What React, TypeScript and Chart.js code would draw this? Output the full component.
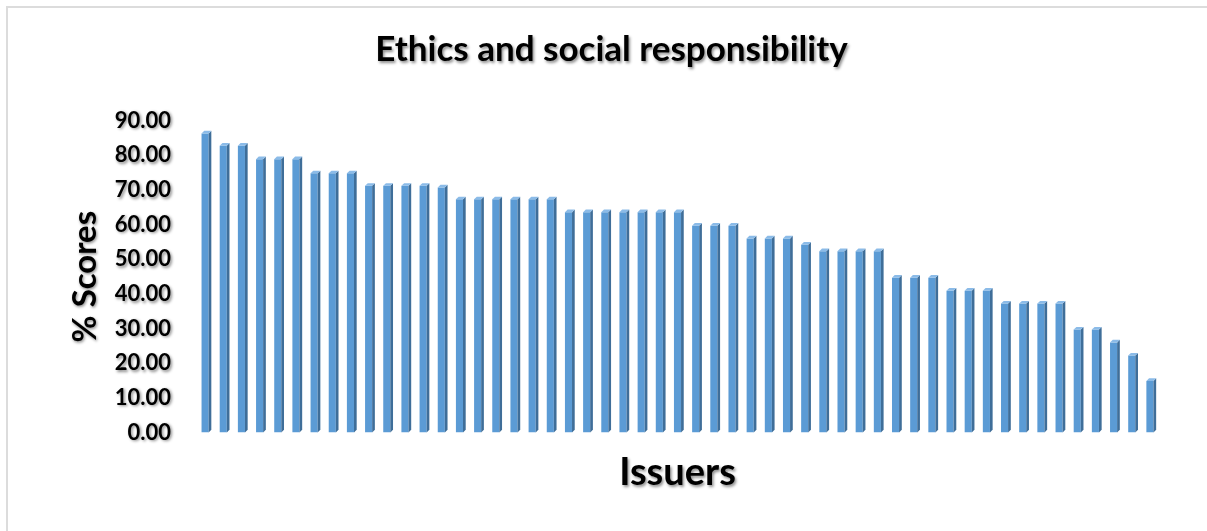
import React, { useEffect, useRef } from "react";
import { Chart, registerables } from "chart.js";

Chart.register(...registerables);

const chartTitle = "Ethics and social responsibility";
const xAxisTitle = "Issuers";
const yAxisTitle = "% Scores";
const yTicks = [0, 10, 20, 30, 40, 50, 60, 70, 80, 90];

// Scores per issuer, sorted from highest to lowest
const scores = [
  86.3, 82.8, 82.8, 78.9, 78.9, 78.9, 74.8, 74.8, 74.8, 71.2, 71.2, 71.2, 71.2,
  70.7, 67.3, 67.3, 67.3, 67.3, 67.3, 67.3, 63.6, 63.6, 63.6, 63.6, 63.6, 63.6,
  63.6, 59.7, 59.7, 59.7, 56.0, 56.0, 56.0, 54.2, 52.3, 52.3, 52.3, 52.3, 44.7,
  44.7, 44.7, 40.9, 40.9, 40.9, 37.2, 37.2, 37.2, 37.2, 29.7, 29.7, 26.0, 22.2,
  14.9,
];
const issuers = scores.map((_, i) => `Issuer ${i + 1}`);

const FONT = "Lato, 'Open Sans', sans-serif";
const FRONT = "#5B9BD5";
const SIDE = "#3F6E99";
const TOP = "#8BBBE8";
const DEPTH = 2.7;

// Soft drop shadow behind the texts, switched off while the bars are drawn
const textShadow = {
  id: "textShadow",
  beforeDraw(chart: any) {
    const c = chart.ctx;
    c.shadowColor = "rgba(0,0,0,0.45)";
    c.shadowBlur = 3;
    c.shadowOffsetX = 1.5;
    c.shadowOffsetY = 1.5;
  },
  beforeDatasetsDraw(chart: any) {
    chart.ctx.shadowColor = "rgba(0,0,0,0)";
    chart.ctx.shadowBlur = 0;
  },
  afterDraw(chart: any) {
    chart.ctx.shadowColor = "rgba(0,0,0,0)";
    chart.ctx.shadowBlur = 0;
  },
};

// Side and top faces that give each column its 3-D look
const columnFaces = {
  id: "columnFaces",
  afterDatasetsDraw(chart: any) {
    const c = chart.ctx;
    const meta = chart.getDatasetMeta(0);
    c.save();
    meta.data.forEach((el: any) => {
      const { x, y, base, width } = el.getProps(["x", "y", "base", "width"], true);
      const l = x - width / 2;
      const r = x + width / 2;
      c.fillStyle = SIDE;
      c.beginPath();
      c.moveTo(r, y);
      c.lineTo(r + DEPTH, y - DEPTH);
      c.lineTo(r + DEPTH, base - DEPTH);
      c.lineTo(r, base);
      c.closePath();
      c.fill();
      c.fillStyle = TOP;
      c.beginPath();
      c.moveTo(l, y);
      c.lineTo(l + DEPTH, y - DEPTH);
      c.lineTo(r + DEPTH, y - DEPTH);
      c.lineTo(r, y);
      c.closePath();
      c.fill();
    });
    c.restore();
  },
};

export default function App() {
  const canvasRef = useRef<HTMLCanvasElement | null>(null);

  useEffect(() => {
    if (!canvasRef.current) return;
    const chart = new Chart(canvasRef.current, {
      type: "bar",
      data: {
        labels: issuers,
        datasets: [
          {
            data: scores,
            backgroundColor: FRONT,
            borderWidth: 0,
            barPercentage: 0.39,
            categoryPercentage: 1,
          },
        ],
      },
      options: {
        animation: false,
        responsive: false,
        devicePixelRatio: 1,
        layout: { padding: { left: 64, right: 48, top: 0, bottom: 0 } },
        plugins: {
          legend: { display: false },
          tooltip: { enabled: false },
          title: {
            display: true,
            text: chartTitle,
            color: "#000",
            font: { family: FONT, weight: "bold", size: 35 },
            padding: { top: 29, bottom: 49.7 },
          },
        },
        scales: {
          x: {
            type: "category",
            grid: { display: false, drawTicks: false },
            border: { display: false },
            ticks: { display: false },
            title: {
              display: true,
              text: xAxisTitle,
              color: "#000",
              font: { family: FONT, weight: "bold", size: 38 },
              padding: { top: 0, bottom: 35 },
            },
            afterFit: (s: any) => {
              s.height = 98.5;
            },
          },
          y: {
            min: 0,
            max: 90,
            grid: { display: false, drawTicks: false, tickLength: 0 },
            border: { display: false },
            ticks: {
              color: "#000",
              padding: 25,
              font: { family: FONT, weight: "bold", size: 22 },
              callback: (v: any) => Number(v).toFixed(2),
            },
            afterBuildTicks: (s: any) => {
              s.ticks = yTicks.map((v) => ({ value: v }));
            },
            title: {
              display: true,
              text: yAxisTitle,
              color: "#000",
              font: { family: FONT, weight: "bold", size: 33 },
              padding: { top: 1.2, bottom: 0 },
            },
            afterFit: (s: any) => {
              s.width = 132;
            },
          },
        },
      },
      plugins: [textShadow, columnFaces],
    });
    return () => chart.destroy();
  }, []);

  return (
    <div
      style={{
        position: "absolute",
        left: 0,
        top: 0,
        width: 1207,
        height: 531,
        overflow: "hidden",
        background: "#fff",
      }}
    >
      <div
        style={{
          position: "absolute",
          left: 6,
          top: 6,
          width: 1300,
          height: 600,
          border: "2px solid #DCDCDC",
        }}
      />
      <canvas
        ref={canvasRef}
        width={1207}
        height={531}
        style={{ position: "absolute", left: 0, top: 0, width: 1207, height: 531 }}
      />
    </div>
  );
}
